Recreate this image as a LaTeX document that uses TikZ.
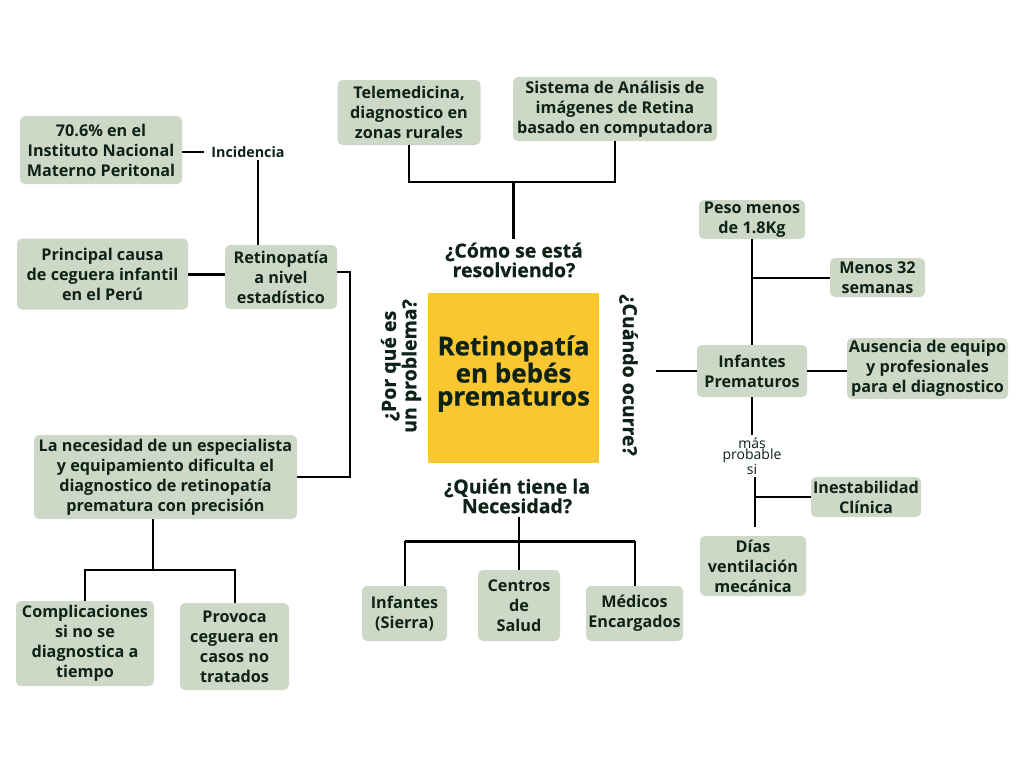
\documentclass[tikz,border=0pt]{standalone}
\usepackage{fontspec}
\setmainfont{Open Sans}
\newfontfamily\negrita{Open Sans}[FakeBold=0.6]
\definecolor{salvia}{HTML}{CDD8C6}
\definecolor{mostaza}{HTML}{FBC731}
\definecolor{tinta}{HTML}{0E2218}
\tikzset{
  caja/.style={fill=salvia, rounded corners=5pt, align=center, text=tinta, inner sep=0pt,
    font=\bfseries\fontsize{16.2}{20}\selectfont},
  pregunta/.style={align=center, text=tinta, inner sep=3pt, font=\negrita\bfseries\fontsize{19.5}{17}\selectfont},
  rama/.style={line width=2pt, black},
  gruesa/.style={line width=3pt, black}
}
\begin{document}
\begin{tikzpicture}[x=1pt, y=-1pt]
\fill[white] (0,0) rectangle (1024,768);
\useasboundingbox (0,0) rectangle (1024,768);

% centro
\node[fill=mostaza, minimum width=171, minimum height=170, inner sep=0pt, align=center, text=tinta,
  font=\negrita\bfseries\fontsize{26}{23}\selectfont] (centro) at (513.5,378) {Retinopatía\\en bebés\\prematuros\\[-8pt]};
\node[pregunta] (como) at (514,260) {¿Cómo se está\\resolviendo?};
\node[pregunta] (quien) at (517,496) {¿Quién tiene la\\Necesidad?};
\node[pregunta, rotate=90] (porque) at (401,366) {¿Por qué es\\un problema?};
\node[pregunta, rotate=-90] (cuando) at (628.5,375) {¿Cuándo ocurre?};

% izquierda
\node[caja, minimum width=162, minimum height=68] (instituto) at (101,150) {70.6\% en el\\Instituto Nacional\\Materno Peritonal};
\node[caja, minimum width=171, minimum height=71] (causa) at (102.5,274) {Principal causa\\de ceguera infantil\\en el Perú};
\node[caja, minimum width=112, minimum height=64] (estad) at (281,277) {Retinopatía\\a nivel\\estadístico};
\node[text=tinta, inner xsep=7pt, inner ysep=2pt, font=\bfseries\fontsize{14.3}{15}\selectfont] (incid) at (248,152) {Incidencia};
\node[caja, minimum width=263, minimum height=84] (necesidad) at (165.5,477) {La necesidad de un especialista\\y equipamiento dificulta el\\diagnostico de retinopatía\\prematura con precisión};
\node[caja, minimum width=138, minimum height=85] (compl) at (85,643.5) {Complicaciones\\si no se\\diagnostica a\\tiempo};
\node[caja, minimum width=109, minimum height=87] (ceguera) at (234.5,646.5) {Provoca\\ceguera en\\casos no\\tratados};

\draw[rama] (instituto.east |- incid.west) -- (incid.west);
\coordinate (incb) at ([xshift=10pt]incid.south);
\draw[rama] (incb) -- (incb |- estad.north);
\draw[gruesa] (causa.east) -- (causa.east -| estad.west);
\draw[rama] ([yshift=5pt]estad.east) -- ++(13,0) |- (necesidad.east);
\coordinate (necb) at (153,570);
\draw[rama] (necesidad.south -| necb) -- (necb);
\draw[rama] (compl.north) |- (necb) -| (ceguera.north);

% arriba
\node[caja, minimum width=143, minimum height=65] (tele) at (409,112.5) {Telemedicina,\\diagnostico en\\zonas rurales};
\node[caja, minimum width=204, minimum height=64] (sistema) at (615,109) {Sistema de Análisis de\\imágenes de Retina\\basado en computadora};
\coordinate (telb) at (513,182);
\draw[rama] (tele.south) |- (telb) -| (sistema.south);
\draw[gruesa] (telb) -- (telb |- como.north);

% abajo
\node[caja, minimum width=85, minimum height=55] (sierra) at (404.5,613.5) {Infantes\\(Sierra)};
\node[caja, minimum width=82, minimum height=71] (centros) at (519,605.5) {Centros\\de\\Salud};
\node[caja, minimum width=97, minimum height=55] (medicos) at (634.5,613.5) {Médicos\\Encargados};
\coordinate (quib) at (517,541);
\draw[gruesa] (sierra.north |- quib) -- (medicos.north |- quib);
\foreach \n in {sierra, medicos}
  \draw[rama] (\n.north) -- (\n.north |- quib);
\draw[rama] (quien.south -| centros.north) -- (centros.north);

% derecha
\node[caja, minimum width=106, minimum height=39] (peso) at (752,219.5) {Peso menos\\de 1.8Kg};
\node[caja, minimum width=95, minimum height=39] (semanas) at (877.5,277.5) {Menos 32\\semanas};
\node[caja, minimum width=110, minimum height=52] (prema) at (752,371) {Infantes\\Prematuros};
\node[caja, minimum width=161, minimum height=61] (ausencia) at (927.5,368.5) {Ausencia de equipo\\y profesionales\\para el diagnostico};
\node[caja, minimum width=110, minimum height=40] (inest) at (866,497) {Inestabilidad\\Clínica};
\node[caja, minimum width=106, minimum height=60] (dias) at (753,566) {Días\\ventilación\\mecánica};
\node[text=tinta, align=center, inner sep=2pt, font=\fontsize{14}{9.5}\selectfont] (probable) at (752,456) {más\\probable\\si};

\draw[rama] (prema.west) -- ++(-41,0);
\draw[rama] (peso.south) -- (prema.north);
\draw[rama] (semanas.west) -- (semanas.west -| peso.south);
\draw[rama] (prema.east) -- (prema.east -| ausencia.west);
\draw[rama] (prema.south) -- (probable.north);
\coordinate (probb) at ([xshift=3pt]probable.south);
\draw[rama] (probb) -- ([yshift=9pt]probb |- dias.north);
\draw[rama] (inest.west) -- (inest.west -| probb);
\end{tikzpicture}
\end{document}
